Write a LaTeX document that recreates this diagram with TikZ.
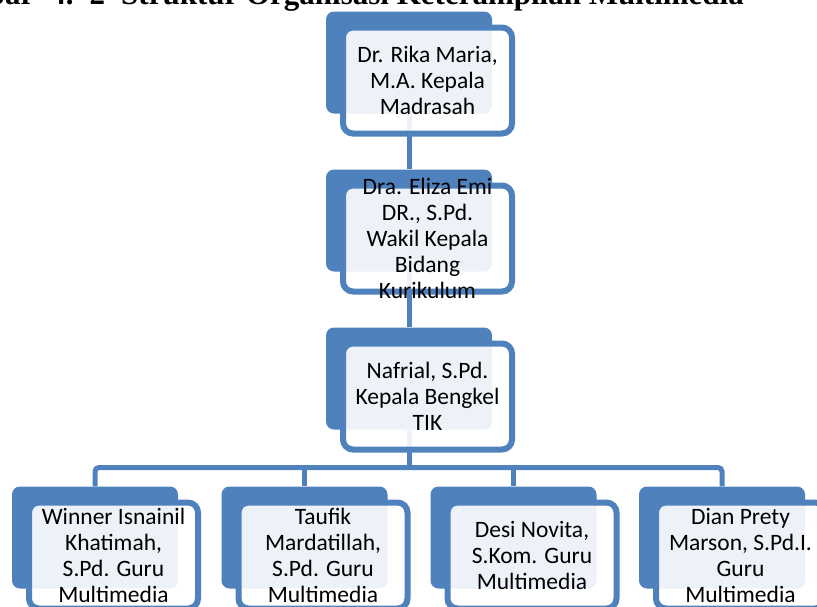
\documentclass[tikz,border=0pt]{standalone}
\usepackage{fontspec}
\setmainfont{Carlito}
\newfontfamily\captionserif{Liberation Serif}
\usetikzlibrary{positioning, backgrounds}
\definecolor{boxblue}{RGB}{79,129,189}

\tikzset{
  backbox/.style={rectangle, rounded corners=8pt, fill=boxblue,
    minimum width=166pt, minimum height=102pt, inner sep=0pt},
  frontbox/.style={rectangle, rounded corners=10pt, draw=boxblue, line width=6pt,
    fill=white, fill opacity=0.9, minimum width=169pt, minimum height=106pt,
    inner sep=0pt, xshift=18.5pt, yshift=-18pt},
  boxtext/.style={align=center, font=\fontsize{23.5}{26}\selectfont, inner sep=0pt},
  link/.style={draw=boxblue, line width=5pt, rounded corners=4pt}
}

\begin{document}
\begin{tikzpicture}[x=1pt, y=-1pt]
  \useasboundingbox (0,0) rectangle (817,606);

  % judul (terpotong di atas)
  \node[anchor=base east, inner sep=0pt, font=\captionserif\bfseries\fontsize{31}{36}\selectfont] (judul)
    at (744,4.5) {Gambar\hspace{16pt}4.\hspace{16pt}2\hspace{16pt}Struktur Organisasi Keterampilan Multimedia};

  % kepala madrasah
  \node[backbox] (rektor-b) at (409,62.5) {};
  \node[frontbox] (rektor) at (rektor-b) {};
  \node[boxtext] (rektor-t) at (rektor) {Dr. Rika Maria,\\M.A. Kepala\\Madrasah};

  % wakil kurikulum
  \node[backbox] (wakil-b) at (409,220.5) {};
  \node[frontbox] (wakil) at (wakil-b) {};
  \node[boxtext] (wakil-t) at (wakil) {Dra. Eliza Emi\\DR., S.Pd.\\Wakil Kepala\\Bidang\\Kurikulum};

  % kepala bengkel
  \node[backbox] (bengkel-b) at (409,378.5) {};
  \node[frontbox] (bengkel) at (bengkel-b) {};
  \node[boxtext] (bengkel-t) at (bengkel) {Nafrial, S.Pd.\\Kepala Bengkel\\TIK};

  % guru multimedia
  \node[backbox] (guru1-b) at (95,537.5) {};
  \node[frontbox] (guru1) at (guru1-b) {};
  \node[boxtext] (guru1-t) at (guru1) {Winner Isnainil\\Khatimah,\\S.Pd. Guru\\Multimedia};

  \node[backbox] (guru2-b) at (304.5,537.5) {};
  \node[frontbox] (guru2) at (guru2-b) {};
  \node[boxtext] (guru2-t) at (guru2) {Taufik\\Mardatillah,\\S.Pd. Guru\\Multimedia};

  \node[backbox] (guru3-b) at (513.5,537.5) {};
  \node[frontbox] (guru3) at (guru3-b) {};
  \node[boxtext] (guru3-t) at (guru3) {Desi Novita,\\S.Kom. Guru\\Multimedia};

  \node[backbox] (guru4-b) at (722,537.5) {};
  \node[frontbox] (guru4) at (guru4-b) {};
  \node[boxtext] (guru4-t) at (guru4) {Dian Prety\\Marson, S.Pd.I.\\Guru\\Multimedia};

  % garis penghubung
  \coordinate (bus) at (409,467.5);
  \begin{scope}[on background layer]
    \draw[link] (rektor-b.south) -- (wakil-b.north);
    \draw[link] (wakil-b.south) -- (bengkel-b.north);
    \draw[link] (bengkel-b.south) -- (bus);
    \draw[link] (guru1-b.north) |- (bus) -| (guru4-b.north);
    \draw[link] (guru2-b.north) -- (guru2-b.north |- bus);
    \draw[link] (guru3-b.north) -- (guru3-b.north |- bus);
  \end{scope}
\end{tikzpicture}
\end{document}
